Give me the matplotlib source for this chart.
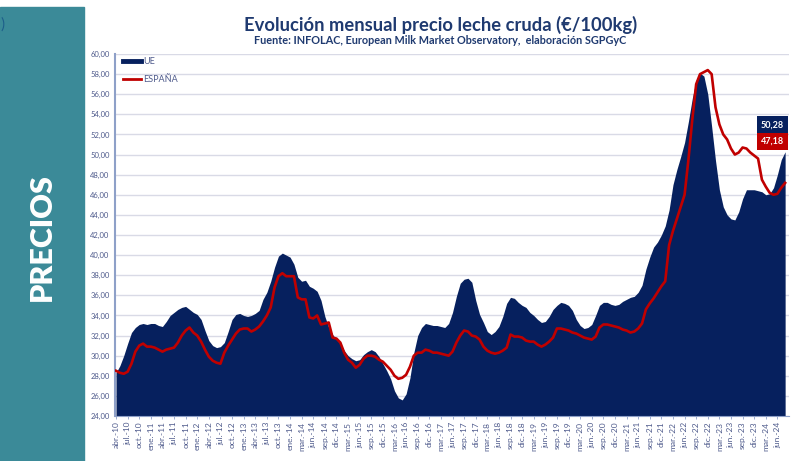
import matplotlib.pyplot as plt
from matplotlib.lines import Line2D
from matplotlib.patches import Rectangle

# precio mensual leche cruda, abr-10 .. ago-24 (€/100kg)
ue = [28.3, 29.0, 30.0, 31.2, 32.3, 32.8, 33.1, 33.2, 33.1, 33.2,
      33.2, 33.0, 32.9, 33.4, 34.0, 34.3, 34.6, 34.8, 34.9, 34.6,
      34.3, 34.1, 33.6, 32.5, 31.5, 31.0, 30.8, 30.9, 31.3, 32.4,
      33.6, 34.1, 34.2, 34.0, 33.9, 34.0, 34.2, 34.5, 35.6, 36.3,
      37.4, 38.8, 39.9, 40.2, 40.0, 39.8, 39.1, 37.8, 37.4, 37.5,
      36.9, 36.7, 36.4, 35.5, 33.9, 32.8, 32.1, 31.6, 31.2, 30.5,
      30.0, 29.7, 29.5, 29.6, 30.1, 30.4, 30.6, 30.4, 29.9, 29.2,
      28.5, 27.7, 26.5, 25.8, 25.6, 26.2, 27.8, 30.3, 32.0, 32.8,
      33.2, 33.1, 33.0, 33.0, 32.9, 32.8, 33.2, 34.3, 35.9, 37.2,
      37.6, 37.7, 37.3, 35.5, 34.1, 33.3, 32.4, 32.1, 32.4, 32.9,
      33.9, 35.2, 35.8, 35.7, 35.3, 35.0, 34.8, 34.3, 34.0, 33.6,
      33.3, 33.4, 33.9, 34.6, 35.0, 35.3, 35.2, 35.0, 34.5, 33.6,
      33.0, 32.7, 32.8, 33.1, 34.0, 35.0, 35.3, 35.3, 35.1, 35.0,
      35.1, 35.4, 35.6, 35.8, 35.9, 36.3, 37.0, 38.6, 39.8, 40.8,
      41.3, 42.0, 42.9, 44.5, 47.0, 48.5, 49.8, 51.2, 53.3, 55.6,
      57.4, 58.1, 57.8, 56.0, 52.8, 49.4, 46.5, 44.8, 44.0, 43.6,
      43.5, 44.3, 45.6, 46.5, 46.5, 46.5, 46.4, 46.3, 46.0, 46.1,
      46.7, 48.0, 49.5, 50.28]

espana = [28.5, 28.3, 28.2, 28.4, 29.2, 30.4, 31.0, 31.2, 30.9, 30.9,
          30.8, 30.6, 30.4, 30.6, 30.7, 30.8, 31.3, 32.0, 32.5, 32.8,
          32.3, 32.0, 31.4, 30.6, 29.9, 29.5, 29.3, 29.2, 30.3, 31.0,
          31.6, 32.2, 32.6, 32.7, 32.7, 32.4, 32.6, 32.9, 33.4, 34.0,
          34.8, 36.8, 37.9, 38.2, 37.9, 37.9, 37.9, 35.8, 35.6, 35.6,
          33.8, 33.7, 34.0, 33.1, 33.2, 33.3, 31.8, 31.7, 31.3, 30.3,
          29.6, 29.3, 28.8, 29.1, 29.7, 30.0, 30.0, 29.9, 29.6, 29.4,
          29.0, 28.6, 28.0, 27.7, 27.8, 28.1, 28.9, 30.0, 30.3, 30.3,
          30.6, 30.5, 30.3, 30.3, 30.2, 30.1, 30.0, 30.4, 31.3, 32.0,
          32.5, 32.4, 32.0, 31.9, 31.6, 30.9, 30.5, 30.3, 30.2, 30.3,
          30.5, 30.8, 32.1, 31.9, 31.9, 31.8, 31.5, 31.4, 31.4, 31.1,
          30.9, 31.1, 31.4, 31.8, 32.7, 32.7, 32.6, 32.5, 32.3, 32.2,
          32.0, 31.8, 31.7, 31.6, 31.9, 32.8, 33.1, 33.1, 33.0, 32.9,
          32.8, 32.6, 32.5, 32.3, 32.4, 32.7, 33.2, 34.6, 35.2, 35.7,
          36.3, 36.9, 37.4, 41.0, 42.4, 43.6, 44.8, 46.0, 49.5, 53.5,
          57.0, 58.0, 58.2, 58.4, 58.0, 54.7, 53.0, 52.0, 51.5, 50.6,
          50.0, 50.2, 50.7, 50.6, 50.2, 49.9, 49.6, 47.5, 46.8, 46.2,
          46.0, 46.1, 46.7, 47.18]

etiquetas = ['abr.-10', 'jul.-10', 'oct.-10', 'ene.-11', 'abr.-11', 'jul.-11',
             'oct.-11', 'ene.-12', 'abr.-12', 'jul.-12', 'oct.-12', 'ene.-13',
             'abr.-13', 'jul.-13', 'oct.-13', 'ene.-14', 'mar.-14', 'jun.-14',
             'sep.-14', 'dic.-14', 'mar.-15', 'jun.-15', 'sep.-15', 'dic.-15',
             'mar.-16', 'jun.-16', 'sep.-16', 'dic.-16', 'mar.-17', 'jun.-17',
             'sep.-17', 'dic.-17', 'mar.-18', 'jun.-18', 'sep.-18', 'dic.-18',
             'mar.-19', 'jun.-19', 'sep.-19', 'dic.-19', 'mar.-20', 'jun.-20',
             'sep.-20', 'dic.-20', 'mar.-21', 'jun.-21', 'sep.-21', 'dic.-21',
             'mar.-22', 'jun.-22', 'sep.-22', 'dic.-22', 'mar.-23', 'jun.-23',
             'sep.-23', 'dic.-23', 'mar.-24', 'jun.-24']

navy = '#06205E'
rojo = '#C00000'
azul_txt = '#4F5B8C'

plt.rcParams['font.family'] = ['Lato', 'DejaVu Sans']

fig = plt.figure(figsize=(7.95, 4.61), dpi=100)

# panel lateral
fig.patches.append(Rectangle((0, 0), 84 / 795, 454 / 461, transform=fig.transFigure,
                             color='#3B8A98', zorder=0))
fig.text(42 / 795, 1 - 237 / 461, 'PRECIOS', rotation=90, color='white',
         fontsize=22, fontweight='heavy', ha='center', va='center')
fig.text(0.001, 1 - 25 / 461, ')', color='#1d5f8a', fontsize=11, ha='left', va='center')

fig.text(0.554, 0.946, 'Evolución mensual precio leche cruda (€/100kg)',
         color='#1F3A70', fontsize=13.2, fontweight='bold', ha='center', va='center')
fig.text(0.554, 0.913, 'Fuente: INFOLAC, European Milk Market Observatory,  elaboración SGPGyC',
         color='#1F3A70', fontsize=7.8, fontweight='bold', ha='center', va='center')

ax = fig.add_axes([115 / 795, 45 / 461, 674 / 795, 362 / 461])
x = list(range(len(ue)))
ax.fill_between(x, 24, ue, color=navy, lw=0, zorder=2)
ax.plot(x, espana, color=rojo, lw=1.9, zorder=3)

ax.set_xlim(-0.26, 174.0)
ax.set_ylim(24, 60)
ax.set_yticks([24 + 2 * k for k in range(19)])
ax.set_yticklabels([f'{24 + 2 * k},00' for k in range(19)])
ax.set_xticks(range(0, 3 * len(etiquetas), 3))
ax.set_xticklabels(etiquetas, rotation=90)
ax.tick_params(axis='y', length=0, labelsize=5.5, labelcolor=azul_txt, pad=4)
ax.tick_params(axis='x', length=2, width=0.6, color='#8EA0C8', labelsize=6,
               labelcolor=azul_txt, pad=2)
ax.grid(axis='y', color='#D9DAE6', lw=1, zorder=1)
ax.set_axisbelow(True)
for s in ['top', 'right']:
    ax.spines[s].set_visible(False)
ax.spines['left'].set_color('#8EA0C8')
ax.spines['left'].set_linewidth(1.5)
ax.spines['bottom'].set_color('#8EA0C8')

handles = [Line2D([], [], color=navy, lw=3.5), Line2D([], [], color=rojo, lw=2)]
ax.legend(handles, ['UE', 'ESPAÑA'], loc='upper left', bbox_to_anchor=(0.0, 1.013),
          frameon=False, fontsize=6.5, labelcolor=azul_txt, handlelength=2.0,
          handletextpad=0.2, labelspacing=1.0)

ax.text(0.975, 52.95, f'{ue[-1]:.2f}'.replace('.', ','), transform=ax.get_yaxis_transform(),
        color='white', fontsize=6.5, fontweight='bold', ha='center', va='center',
        bbox=dict(boxstyle='square,pad=0.45', fc=navy, ec='none'), zorder=5)
ax.text(0.975, 51.3, f'{espana[-1]:.2f}'.replace('.', ','), transform=ax.get_yaxis_transform(),
        color='white', fontsize=6.5, fontweight='bold', ha='center', va='center',
        bbox=dict(boxstyle='square,pad=0.45', fc=rojo, ec='none'), zorder=5)

fig.savefig('out.png', dpi=100)
